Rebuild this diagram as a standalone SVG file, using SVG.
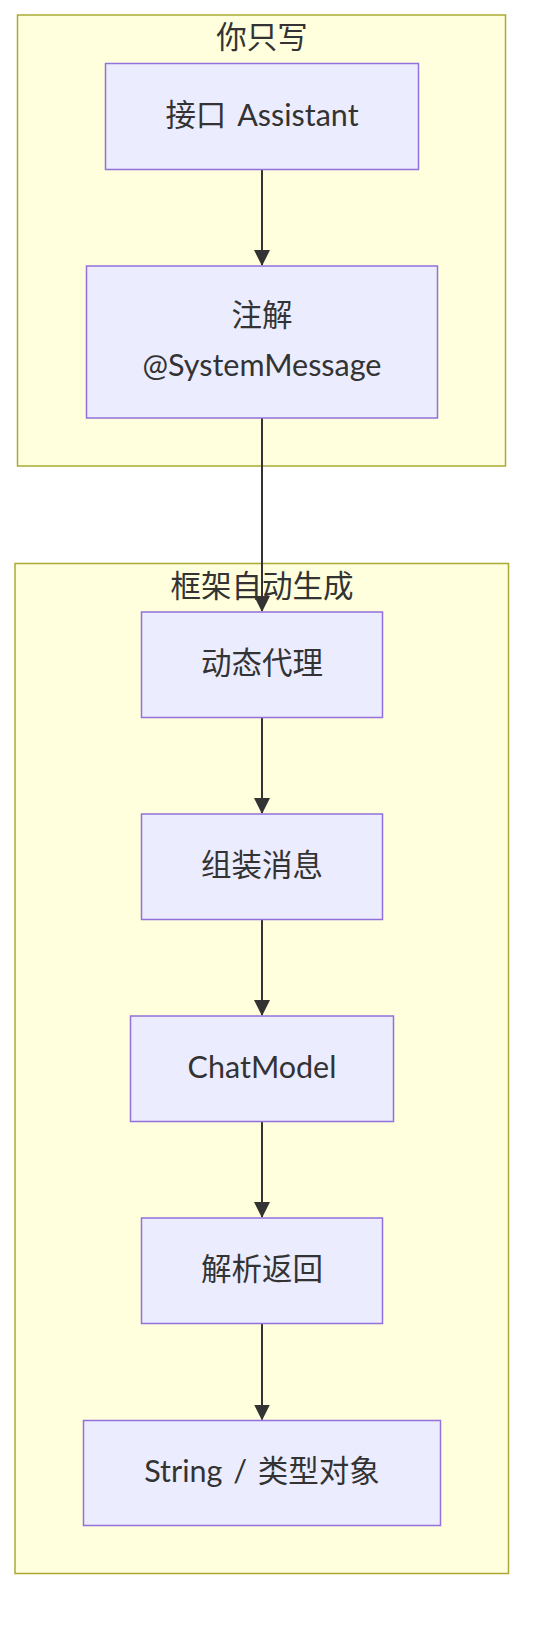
<svg xmlns="http://www.w3.org/2000/svg" width="540" height="1636" viewBox="0 0 540 1636">
<style>
.cluster{fill:#ffffde;stroke:#aaaa33;stroke-width:1.5}
.node rect{fill:#ececff;stroke:#9370db;stroke-width:1.5}
text{font-family:Lato,"Noto Sans CJK SC",sans-serif;font-size:30.5px;fill:#333333;text-anchor:middle;word-spacing:3px}
.edge{fill:none;stroke:#333333;stroke-width:2}
</style>
<defs>
<marker id="arrow" markerUnits="userSpaceOnUse" viewBox="0 0 16 16" refX="15" refY="8" markerWidth="16" markerHeight="16" orient="auto">
<path d="M0,0 L16,8 L0,16 z" fill="#333333"/>
</marker>
</defs>
<rect width="540" height="1636" fill="#ffffff"/>
<g id="cluster-you">
<rect class="cluster" x="17.5" y="15" width="488" height="451"/>
<text x="262" y="48">你只写</text>
</g>
<g id="cluster-framework">
<rect class="cluster" x="15" y="563.5" width="493.5" height="1010"/>
<text x="262" y="597">框架自动生成</text>
</g>
<g id="connectors">
<path class="edge" d="M262,169.5 L262,265" marker-end="url(#arrow)"/>
<path class="edge" d="M262,418 L262,611" marker-end="url(#arrow)"/>
<path class="edge" d="M262,717.5 L262,813" marker-end="url(#arrow)"/>
<path class="edge" d="M262,919.5 L262,1015" marker-end="url(#arrow)"/>
<path class="edge" d="M262,1121.5 L262,1217" marker-end="url(#arrow)"/>
<path class="edge" d="M262,1323.5 L262,1419.5" marker-end="url(#arrow)"/>
</g>
<g id="node-assistant" class="node">
<rect x="105.5" y="63.5" width="313" height="106"/>
<text x="262" y="125.5">接口 Assistant</text>
</g>
<g id="node-annotation" class="node">
<rect x="86.5" y="266" width="351" height="152"/>
<text x="262" y="326">注解</text>
<text x="262" y="376">@SystemMessage</text>
</g>
<g id="node-proxy" class="node">
<rect x="141.5" y="612" width="241" height="105.5"/>
<text x="262" y="673.5">动态代理</text>
</g>
<g id="node-assemble" class="node">
<rect x="141.5" y="814" width="241" height="105.5"/>
<text x="262" y="875.5">组装消息</text>
</g>
<g id="node-chatmodel" class="node">
<rect x="130.5" y="1016" width="263" height="105.5"/>
<text x="262" y="1077.5">ChatModel</text>
</g>
<g id="node-parse" class="node">
<rect x="141.5" y="1218" width="241" height="105.5"/>
<text x="262" y="1279.5">解析返回</text>
</g>
<g id="node-result" class="node">
<rect x="83.5" y="1420.5" width="357" height="105"/>
<text x="262" y="1482">String / 类型对象</text>
</g>
</svg>
